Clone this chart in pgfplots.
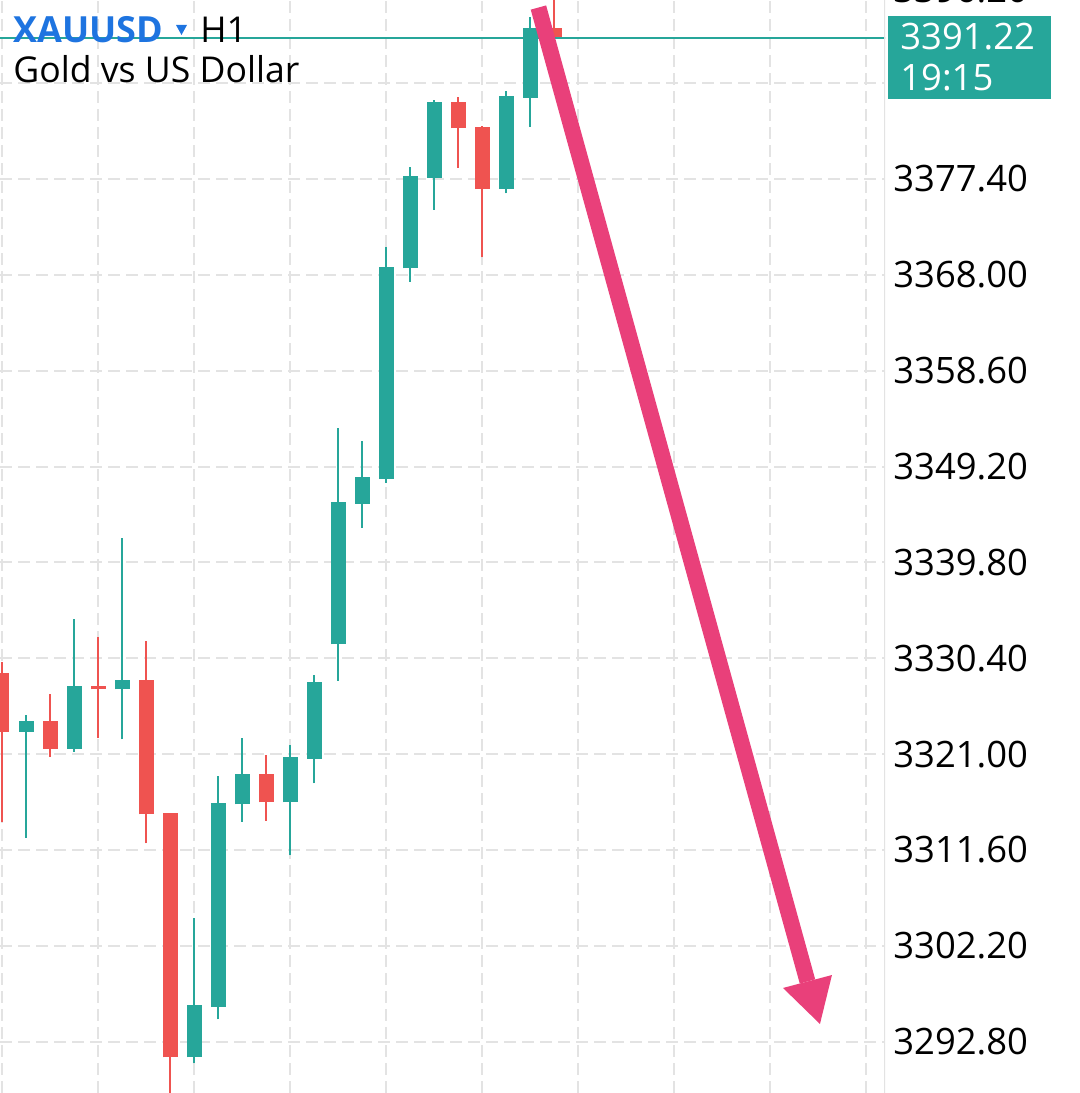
\documentclass[border=0pt]{standalone}
\usepackage{pgfplots}
\usepackage{pgfplotstable}
\usepackage{fontspec}
\setmainfont{Open Sans}
\pgfplotsset{compat=1.18}
\definecolor{upcol}{HTML}{26A69A}
\definecolor{downcol}{HTML}{EF5350}
\definecolor{arrowpink}{HTML}{E9407A}
\definecolor{symblue}{HTML}{1E74E0}
\definecolor{gridgray}{HTML}{E3E3E3}

% hourly candles: index, open, high, low, close
\pgfplotstableread{
i open high low close
1 3323.20 3324.84 3312.81 3324.25
3 3321.53 3334.25 3321.24 3327.68
5 3327.36 3342.20 3322.46 3328.27
8 3291.27 3304.90 3290.68 3296.40
9 3296.20 3318.86 3295.00 3316.24
10 3316.08 3322.55 3314.38 3319.05
12 3316.28 3321.90 3311.11 3320.69
13 3320.55 3328.73 3318.14 3328.08
14 3331.77 3352.96 3328.20 3345.73
15 3345.56 3351.71 3343.21 3348.18
16 3347.98 3370.71 3347.62 3368.81
17 3368.65 3378.55 3367.33 3377.70
18 3377.53 3385.15 3374.37 3384.99
21 3376.40 3386.07 3376.00 3385.55
22 3385.38 3393.32 3382.54 3392.18
}\upcandles
\pgfplotstableread{
i open high low close
0 3328.99 3330.07 3314.38 3323.20
2 3324.25 3326.90 3320.75 3321.53
4 3327.68 3332.52 3322.55 3327.36
6 3328.27 3332.10 3312.26 3315.10
7 3315.20 3315.20 3287.77 3291.27
11 3319.05 3320.92 3314.47 3316.28
19 3384.96 3385.42 3378.51 3382.38
20 3382.54 3382.60 3369.73 3376.40
23 3392.18 3398.00 3391.22 3391.22
}\downcandles

\pgfplotsset{
  candle/.style={forget plot, only marks, mark=*, mark size=0pt,
    mark options={draw=none, fill=none},
    error bars/.cd, y dir=plus, y explicit, error mark=none,
    error bar style={line width=#1}},
}

\begin{document}
\begin{tikzpicture}
\begin{axis}[
  at={(0,0)}, anchor=south west,
  scale only axis, width=442.5pt, height=546.5pt,
  xmin=-0.0833, xmax=36.79,
  ymin=3287.77, ymax=3394.96,
  axis line style={draw=none},
  xtick={0,4,...,36}, xticklabels={},
  ytick={3292.8,3302.2,3311.6,3321.0,3330.4,3339.8,3349.2,3358.6,3368.0,3377.4,3386.8},
  yticklabels={3292.80,3302.20,3311.60,3321.00,3330.40,3339.80,3349.20,3358.60,3368.00,3377.40,{}},
  yticklabel pos=right,
  yticklabel style={anchor=west, inner sep=0pt, xshift=4pt},
  major tick length=0pt,
  grid=major,
  major grid style={gridgray, line width=1pt, dash pattern=on 6pt off 3pt},
  tick label style={font=\fontsize{18.2}{20}\selectfont},
]
  % wicks
  \addplot[upcol, candle=1pt]
    table[x=i, y=low, y error plus expr=\thisrow{high}-\thisrow{low}] {\upcandles};
  \addplot[downcol, candle=1pt]
    table[x=i, y=low, y error plus expr=\thisrow{high}-\thisrow{low}] {\downcandles};
  % bodies
  \addplot[upcol, candle=7.5pt]
    table[x=i, y=open, y error plus expr=\thisrow{close}-\thisrow{open}] {\upcandles};
  \addplot[downcol, candle=7.5pt]
    table[x=i, y=close, y error plus expr=\thisrow{open}-\thisrow{close}] {\downcandles};
  % last price line
  \addplot[upcol, line width=1.2pt] coordinates {(-1,3391.22) (40,3391.22)};
  % right price scale border
  \draw[gridgray, line width=1.5pt] (rel axis cs:1,0) -- (rel axis cs:1,1);
  % pink arrow
  \draw[arrowpink, line width=8pt] (axis cs:22.35,3394.22) -- (axis cs:33.56,3298.71);
  \fill[arrowpink] (axis cs:32.54,3298.07) -- (axis cs:34.58,3299.34) -- (axis cs:34.08,3294.54) -- cycle;
\end{axis}
% title
\node[anchor=base west, inner sep=0pt, text=symblue, font=\bfseries\fontsize{18}{20}\selectfont] at (6.5pt,525pt) {XAUUSD};
\fill[symblue] (88pt,534pt) -- (93.5pt,534pt) -- (90.75pt,529pt) -- cycle;
\node[anchor=base west, inner sep=0pt, font=\fontsize{17.8}{20}\selectfont] at (100pt,525pt) {H1};
\node[anchor=base west, inner sep=0pt, font=\fontsize{17.8}{20}\selectfont] at (6.5pt,505pt) {Gold vs US Dollar};
% partial top label
\node[anchor=base west, inner sep=0pt, font=\fontsize{18.2}{20}\selectfont] at (446.5pt,545pt) {3396.20};
% price box
\fill[upcol] (444pt,497pt) rectangle (525.5pt,538.5pt);
\node[anchor=base west, inner sep=0pt, text=white, font=\fontsize{18.2}{20}\selectfont] at (450pt,521.5pt) {3391.22};
\node[anchor=base west, inner sep=0pt, text=white, font=\fontsize{18.2}{20}\selectfont] at (450pt,501pt) {19:15};
\pgfresetboundingbox
\useasboundingbox (0,0) rectangle (540pt,546.5pt);
\end{tikzpicture}
\end{document}
